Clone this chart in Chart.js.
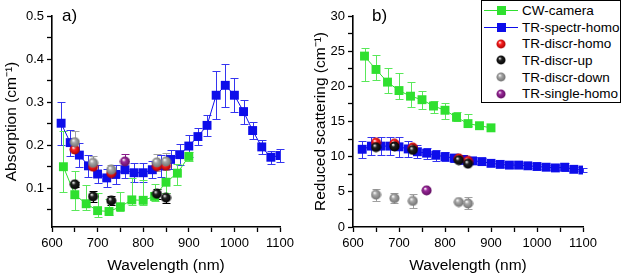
<!DOCTYPE html>
<html>
<head>
<meta charset="utf-8">
<script src="https://cdn.jsdelivr.net/npm/chart.js@4.4.1/dist/chart.umd.min.js"></script>
<style>
  body { margin: 0; width: 622px; height: 277px; position: relative; background: #fff; overflow: hidden;
         font-family: "Liberation Sans", Arial, sans-serif; }
  .panel { position: absolute; top: 0; width: 311px; height: 277px; }
  #wrapA { left: 0; }
  #wrapB { left: 311px; }
  .tag { position: absolute; font-size: 17px; color: #000; }
  #legend { position: absolute; left: 481px; top: 0; width: 140px; height: 103px; border: 1px solid #000;
            background: #fff; box-sizing: border-box; padding-top: 1px; }
  .row { height: 16.7px; display: flex; align-items: center; font-size: 13.5px; color: #000; white-space: nowrap; }
  .sym { width: 40px; height: 16px; position: relative; flex: none; }
</style>
</head>
<body>
<div class="panel" id="wrapA"><canvas id="chartA" width="311" height="277"></canvas></div>
<div class="panel" id="wrapB"><canvas id="chartB" width="311" height="277"></canvas></div>
<div class="tag" style="left:62px;top:6px">a)</div>
<div class="tag" style="left:372px;top:6px">b)</div>
<div id="legend"></div>

<script>
// ---------- data ----------
const wlSpectr = [620, 640, 660, 680, 700, 720, 740, 760, 780, 800, 820, 840, 860, 880, 900,
                  920, 940, 960, 980, 1000, 1020, 1040, 1060, 1080, 1100];
const wlCamera = [625, 650, 675, 700, 725, 750, 775, 800, 825, 850, 875, 900];
const wlDiscr = [650, 690, 730, 830, 850];
const wlSingle = [760];

// a) absorption (cm-1)
const absSpectr = [0.251, 0.206, 0.177, 0.152, 0.133, 0.124, 0.132, 0.143, 0.136, 0.136, 0.143, 0.152, 0.167,
                   0.178, 0.198, 0.220, 0.246, 0.316, 0.339, 0.316, 0.278, 0.234, 0.196, 0.172, 0.176];
const absSpectrErr = [0.05, 0.03, 0.027, 0.025, 0.02, 0.02, 0.022, 0.02, 0.022, 0.022, 0.02, 0.025, 0.022,
                      0.025, 0.025, 0.02, 0.025, 0.056, 0.05, 0.04, 0.028, 0.02, 0.016, 0.015, 0.016];
const absCamera = [0.150, 0.085, 0.064, 0.048, 0.046, 0.057, 0.073, 0.072, 0.081, 0.114, 0.135, 0.174];
const absCameraUp = [0.084, 0.054, 0.044, 0.04, 0.03, 0.035, 0.05, 0.048, 0.03, 0.045, 0.022, 0.01];
const absCameraDown = [0.059, 0.035, 0.014, 0.014, 0.008, 0.01, 0.012, 0.01, 0.01, 0.025, 0.028, 0.01];
const absDiscrHomo = [0.190, 0.150, 0.135, 0.151, 0.152];
const absDiscrUp = [0.109, 0.081, 0.071, 0.087, 0.078];
const absDiscrUpErr = [0.006, 0.012, 0.01, 0.012, 0.012];
const absDiscrDown = [0.207, 0.159, 0.143, 0.160, 0.162];
const absDiscrDownErr = [0.025, 0.015, 0.01, 0.02, 0.02];
const absSingle = [0.162];
const absSingleErr = [0.018];

// b) reduced scattering (cm-1)
const scatSpectr = [11.05, 11.5, 11.5, 11.5, 11.4, 11.1, 10.7, 10.5, 10.2, 10.0, 9.8, 9.6, 9.4, 9.3, 9.05,
                    8.9, 8.8, 8.8, 8.7, 8.6, 8.5, 8.4, 8.5, 8.2, 8.1];
const scatSpectrErr = [1.2, 1.3, 1.3, 1.3, 1.4, 1.1, 0.9, 0.8, 0.8, 0.6, 0.6, 0.6, 0.5, 0.5, 0.4,
                       0.4, 0.35, 0.35, 0.35, 0.35, 0.35, 0.35, 0.6, 0.3, 0.3];
const scatCamera = [24.3, 22.4, 20.6, 19.4, 18.6, 18.1, 17.2, 16.6, 15.6, 14.7, 14.4, 14.1];
const scatCameraUp = [1.2, 2.0, 2.0, 2.5, 2.0, 1.2, 0.7, 1.1, 0.7, 1.3, 0, 0];
const scatCameraDown = [3.5, 1.5, 1.6, 1.2, 1.5, 1.3, 1.0, 1.3, 0.5, 0.3, 0, 0];
const scatDiscrHomo = [12.0, 11.85, 11.3, 9.75, 9.4];
const scatDiscrUp = [11.35, 11.45, 10.95, 9.5, 9.0];
const scatDiscrDown = [4.6, 4.1, 3.7, 3.55, 3.35];
const scatDiscrDownErr = [0.85, 0.75, 1.0, 0.2, 0.85];
const scatSingle = [5.2];

// tick positions
const xTicks = [600, 650, 700, 750, 800, 850, 900, 950, 1000, 1050, 1100];
const absTicks = [0.05, 0.1, 0.15, 0.2, 0.25, 0.3, 0.35, 0.4, 0.45, 0.5];
const scatTicks = [0, 2.5, 5, 7.5, 10, 12.5, 15, 17.5, 20, 22.5, 25, 27.5, 30];

// ---------- colours / markers ----------
const GREEN = '#2fe02f';
const GREEN_ERR = '#5ae85a';
const BLUE = '#0d0dea';
const BLUE_ERR = '#3535f0';
const FONT = '"Liberation Sans", Arial, sans-serif';

function sphere(base, dark) {
  const c = document.createElement('canvas');
  c.width = c.height = 11;
  const g = c.getContext('2d');
  const grd = g.createRadialGradient(4, 3.6, 0.3, 5.5, 5.5, 5.6);
  grd.addColorStop(0, '#ffffff');
  grd.addColorStop(0.3, base);
  grd.addColorStop(1, dark);
  g.fillStyle = grd;
  g.beginPath();
  g.arc(5.5, 5.5, 5, 0, Math.PI * 2);
  g.fill();
  return c;
}

const redBall = sphere('#ff2020', '#a00000');
const blackBall = sphere('#202020', '#000000');
const grayBall = sphere('#a8a8a8', '#6a6a6a');
const purpleBall = sphere('#9a2a9a', '#5a0a5a');

const pts = (xs, ys) => xs.map((x, i) => ({ x: x, y: ys[i] }));

// error bars are drawn behind the markers
const errorBars = {
  id: 'errorBars',
  beforeDatasetsDraw(chart) {
    const ctx = chart.ctx;
    const xs = chart.scales.x, ys = chart.scales.y;
    chart.data.datasets.forEach(ds => {
      if (!ds.errUp) return;
      ctx.save();
      ctx.strokeStyle = ds.errColor;
      ctx.lineWidth = 1;
      ds.data.forEach((p, k) => {
        const up = ds.errUp[k];
        const dn = ds.errDown ? ds.errDown[k] : up;
        if (!up && !dn) return;
        const x = Math.round(xs.getPixelForValue(p.x)) + 0.5;
        const y1 = Math.round(ys.getPixelForValue(p.y + up)) + 0.5;
        const y2 = Math.round(ys.getPixelForValue(p.y - dn)) + 0.5;
        ctx.beginPath();
        ctx.moveTo(x, y1); ctx.lineTo(x, y2);
        ctx.moveTo(x - 4, y1); ctx.lineTo(x + 4, y1);
        ctx.moveTo(x - 4, y2); ctx.lineTo(x + 4, y2);
        ctx.stroke();
      });
      ctx.restore();
    });
  }
};

function lineSet(label, xs, ys, color, errColor, up, down, order) {
  return {
    label: label, data: pts(xs, ys), type: 'line', showLine: true,
    borderColor: color, backgroundColor: color, borderWidth: 1,
    pointStyle: 'rect', pointRadius: 6.3, pointBorderWidth: 0, pointBackgroundColor: color,
    errUp: up, errDown: down, errColor: errColor, order: order
  };
}

function ballSet(label, xs, ys, img, errColor, err) {
  return {
    label: label, data: pts(xs, ys), type: 'scatter', showLine: false,
    pointStyle: img, pointRadius: 5, borderWidth: 0,
    errUp: err, errDown: err, errColor: errColor, order: 0
  };
}

function makeChart(id, datasets, yMin, yMax, yTickVals, yLabelEvery, yTitle, yWidth, pad, titlePad, decimals) {
  return new Chart(document.getElementById(id), {
    type: 'scatter',
    data: { datasets: datasets },
    plugins: [errorBars],
    options: {
      responsive: false, animation: false,
      layout: { padding: pad },
      plugins: { legend: { display: false }, tooltip: { enabled: false } },
      scales: {
        x: {
          type: 'linear', min: 600, max: 1100,
          afterBuildTicks: a => { a.ticks = xTicks.map(v => ({ value: v })); },
          afterFit: s => { s.height = 50; },
          ticks: { callback: v => (v % 100 === 0 ? String(v) : ''), autoSkip: false, maxRotation: 0,
                   color: '#000', padding: 4, font: { family: FONT, size: 13 } },
          grid: { drawOnChartArea: false, tickLength: 5, tickColor: '#000', tickWidth: 1.3 },
          border: { color: '#000', width: 1.6 },
          title: { display: true, text: 'Wavelength (nm)', color: '#000',
                   font: { family: FONT, size: 15.5 }, padding: { top: 0, bottom: 2 } }
        },
        y: {
          type: 'linear', min: yMin, max: yMax,
          afterBuildTicks: a => { a.ticks = yTickVals.map(v => ({ value: v })); },
          afterFit: s => { s.width = yWidth; },
          ticks: { callback: v => {
                     const r = v / yLabelEvery;
                     return Math.abs(r - Math.round(r)) < 1e-6 ? v.toFixed(decimals) : '';
                   },
                   autoSkip: false, color: '#000', padding: 3, font: { family: FONT, size: 13 } },
          grid: { drawOnChartArea: false, tickLength: 5, tickColor: '#000', tickWidth: 1.3 },
          border: { color: '#000', width: 1.6 },
          title: { display: true, text: yTitle, color: '#000',
                   font: { family: FONT, size: 15.5 }, padding: { top: titlePad, bottom: 0 } }
        }
      }
    }
  });
}

makeChart('chartA', [
  ballSet('TR-discr-down', wlDiscr, absDiscrDown, grayBall, '#a0a0a0', absDiscrDownErr),
  ballSet('TR-discr-homo', wlDiscr, absDiscrHomo, redBall, '#e00000', null),
  ballSet('TR-discr-up', wlDiscr, absDiscrUp, blackBall, '#000', absDiscrUpErr),
  ballSet('TR-single-homo', wlSingle, absSingle, purpleBall, '#8a1a8a', absSingleErr),
  lineSet('TR-spectr-homo', wlSpectr, absSpectr, BLUE, BLUE_ERR, absSpectrErr, absSpectrErr, 1),
  lineSet('CW-camera', wlCamera, absCamera, GREEN, GREEN_ERR, absCameraUp, absCameraDown, 2)
], 0.01, 0.5, absTicks, 0.1, 'Absorption (cm\u207B\u00B9)', 52, { left: 0, right: 31, top: 16, bottom: 0 }, 2, 1);

makeChart('chartB', [
  ballSet('TR-discr-down', wlDiscr, scatDiscrDown, grayBall, '#a0a0a0', scatDiscrDownErr),
  ballSet('TR-discr-up', wlDiscr, scatDiscrUp, blackBall, '#000', null),
  ballSet('TR-discr-homo', wlDiscr, scatDiscrHomo, redBall, '#e00000', null),
  ballSet('TR-single-homo', wlSingle, scatSingle, purpleBall, '#8a1a8a', null),
  lineSet('TR-spectr-homo', wlSpectr, scatSpectr, BLUE, BLUE_ERR, scatSpectrErr, scatSpectrErr, 1),
  lineSet('CW-camera', wlCamera, scatCamera, GREEN, GREEN_ERR, scatCameraUp, scatCameraDown, 2)
], 0, 30, scatTicks, 5, 'Reduced scattering (cm\u207B\u00B9)', 42, { left: 0, right: 39, top: 16, bottom: 0 }, 0, 0);

// ---------- legend ----------
const legendItems = [
  { name: 'CW-camera', color: GREEN, line: true },
  { name: 'TR-spectr-homo', color: BLUE, line: true },
  { name: 'TR-discr-homo', ball: redBall },
  { name: 'TR-discr-up', ball: blackBall },
  { name: 'TR-discr-down', ball: grayBall },
  { name: 'TR-single-homo', ball: purpleBall }
];
const legend = document.getElementById('legend');
legendItems.forEach(it => {
  const row = document.createElement('div');
  row.className = 'row';
  const sym = document.createElement('div');
  sym.className = 'sym';
  if (it.line) {
    sym.innerHTML = '<div style="position:absolute;left:2px;top:8px;width:34px;height:1px;background:' + it.color + '"></div>' +
                    '<div style="position:absolute;left:15px;top:4px;width:9px;height:9px;background:' + it.color + '"></div>';
  } else {
    const c = document.createElement('canvas');
    c.width = c.height = 11;
    c.getContext('2d').drawImage(it.ball, 0, 0);
    c.style.cssText = 'position:absolute;left:14px;top:3px;width:10px;height:10px';
    sym.appendChild(c);
  }
  row.appendChild(sym);
  const t = document.createElement('span');
  t.textContent = it.name;
  row.appendChild(t);
  legend.appendChild(row);
});
</script>
</body>
</html>
